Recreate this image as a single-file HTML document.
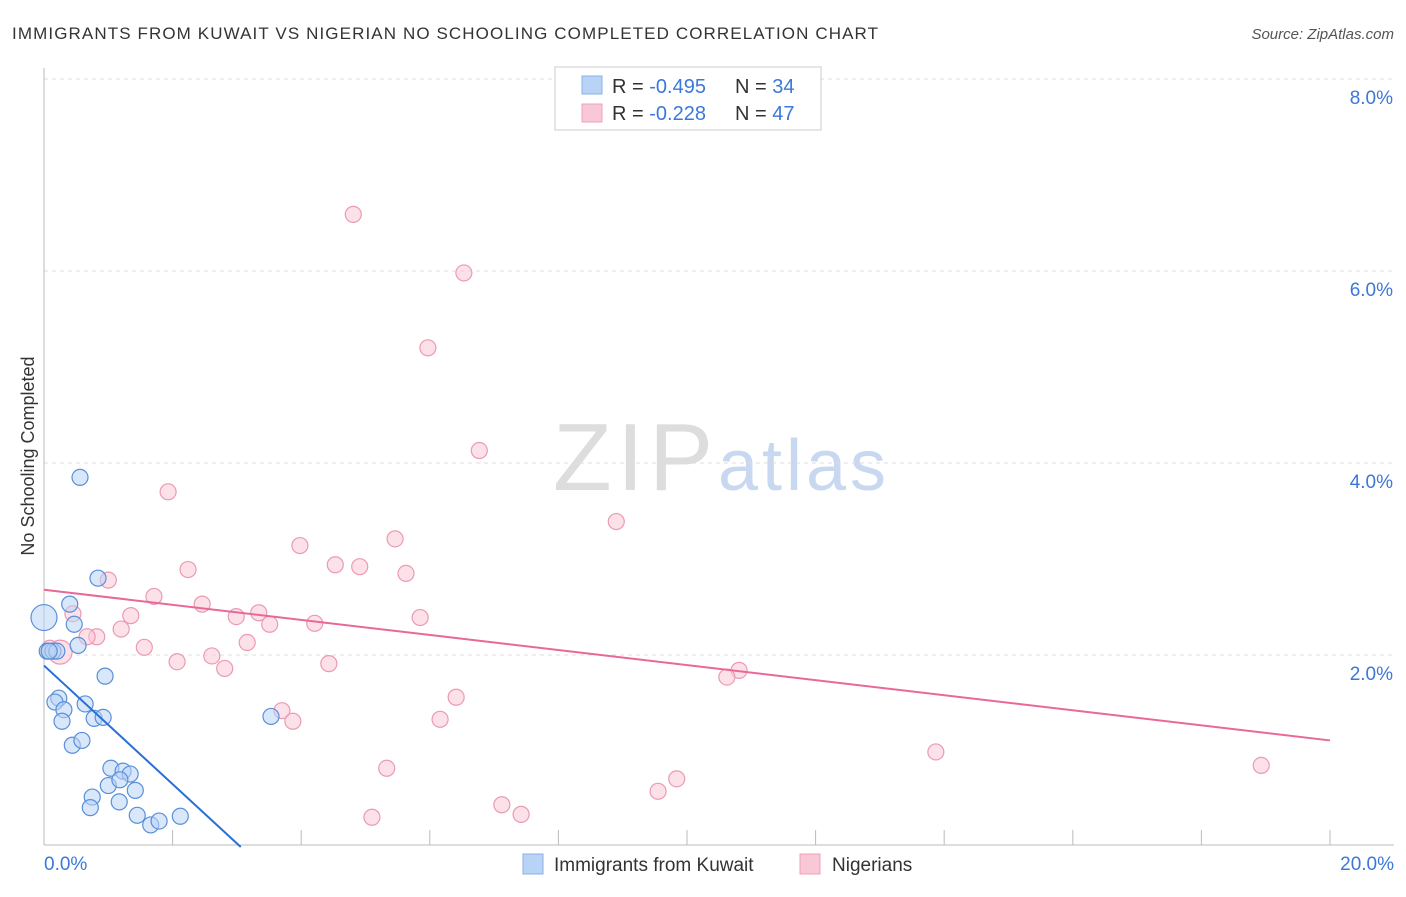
<!DOCTYPE html>
<html><head><meta charset="utf-8"><style>
body{margin:0;background:#fff;font-family:"Liberation Sans",sans-serif;}
svg text{font-family:"Liberation Sans",sans-serif;}
</style></head><body>
<svg id="chart" width="1406" height="892" viewBox="0 0 1406 892" xmlns="http://www.w3.org/2000/svg">
<text x="12" y="39" font-size="17" fill="#333" textLength="866">IMMIGRANTS FROM KUWAIT VS NIGERIAN NO SCHOOLING COMPLETED CORRELATION CHART</text>
<text x="1394" y="39" font-size="15" fill="#555" text-anchor="end" font-style="italic">Source: ZipAtlas.com</text>
<text x="553" y="490" font-size="96" fill="#ddd" font-family="Liberation Serif" textLength="160">ZIP</text>
<text x="718" y="490" font-size="72" fill="#c8d8f0" textLength="168">atlas</text>
<g id="grid"></g><g id="axes"></g><g id="marks"></g>
<text transform="translate(34,456) rotate(-90)" font-size="18" fill="#333" text-anchor="middle">No Schooling Completed</text>
<g>
<rect x="555" y="67" width="266" height="63" fill="#fff" stroke="#ccc"/>
<rect x="582" y="76" width="20" height="18" fill="#b8d3f5" stroke="#8ab0e6"/>
<rect x="582" y="104" width="20" height="18" fill="#f9c8d6" stroke="#eea0b8"/>
<text x="612" y="93" font-size="20" fill="#333">R = <tspan fill="#3b78d8">-0.495</tspan></text>
<text x="735" y="93" font-size="20" fill="#333">N = <tspan fill="#3b78d8">34</tspan></text>
<text x="612" y="120" font-size="20" fill="#333">R = <tspan fill="#3b78d8">-0.228</tspan></text>
<text x="735" y="120" font-size="20" fill="#333">N = <tspan fill="#3b78d8">47</tspan></text>
</g>
<g>
<rect x="523" y="854" width="20" height="20" fill="#b8d3f5" stroke="#8ab0e6"/>
<text x="554" y="871" font-size="19" fill="#333">Immigrants from Kuwait</text>
<rect x="800" y="854" width="20" height="20" fill="#f9c8d6" stroke="#eea0b8"/>
<text x="832" y="871" font-size="19" fill="#333">Nigerians</text>
</g>
</svg>
<script>
const xTicks=[0,2,4,6,8,10,12,14,16,18,20];
const yTicks=[2,4,6,8];
const yTickLabels=["2.0%","4.0%","6.0%","8.0%"];
const kuwaitX=[0,0.05,0.14,0.2,0.4,0.47,0.53,0.56,0.84,0.95,0.23,0.17,0.31,0.28,0.64,0.78,0.92,0.44,0.59,1.04,1.23,1.34,1.0,1.18,1.42,0.75,0.72,1.17,1.45,1.66,1.79,2.12,3.53,0.08];
const kuwaitY=[2.39,2.04,2.04,2.04,2.53,2.32,2.1,3.85,2.8,1.78,1.55,1.51,1.43,1.31,1.49,1.34,1.35,1.06,1.11,0.82,0.79,0.76,0.64,0.7,0.59,0.52,0.41,0.47,0.33,0.23,0.27,0.32,1.36,2.04];
const nigX=[4.81,6.53,5.97,6.77,1.93,8.9,3.98,5.46,4.53,4.91,5.63,2.24,1.0,1.71,2.46,3.34,2.99,1.35,0.45,3.51,4.21,5.85,1.2,0.82,0.67,3.16,1.56,0.25,0.09,2.61,2.07,2.81,4.43,10.81,10.62,6.41,3.7,3.87,6.16,13.87,5.33,18.93,9.84,9.55,7.12,7.42,5.1];
const nigY=[6.59,5.98,5.2,4.13,3.7,3.39,3.14,3.21,2.94,2.92,2.85,2.89,2.78,2.61,2.53,2.44,2.4,2.41,2.43,2.32,2.33,2.39,2.27,2.19,2.19,2.13,2.08,2.03,2.07,1.99,1.93,1.86,1.91,1.84,1.77,1.56,1.42,1.31,1.33,0.99,0.82,0.85,0.71,0.58,0.44,0.34,0.31];
const kuwaitTrend=[[0,1.89],[3.06,0]];
const nigTrend=[[0,2.68],[20,1.11]];
const X=v=>44+v*64.3, Y=v=>847-v*96;
const NS="http://www.w3.org/2000/svg";
function mk(tag,attrs,parent){const e=document.createElementNS(NS,tag);for(const k in attrs)e.setAttribute(k,attrs[k]);document.getElementById(parent).appendChild(e);return e;}
yTicks.forEach((t,i)=>{
 const l=mk('line',{x1:44,x2:1394,y1:Y(t),y2:Y(t),stroke:'#ddd','stroke-dasharray':'4,4'},'grid');
 
 
 const tx=mk('text',{x:1393,y:Y(t)+25,'font-size':19,fill:'#3b78d8','text-anchor':'end'},'axes');
 tx.textContent=yTickLabels[i];
 
 
});
const ax=mk('line',{x1:44,x2:44,y1:68,y2:845,stroke:'#bbb'},'axes');


const bx=mk('line',{x1:44,x2:1394,y1:845,y2:845,stroke:'#bbb'},'axes');


xTicks.forEach(t=>{
 const l=mk('line',{x1:X(t),x2:X(t),y1:830,y2:845,stroke:'#bbb'},'axes');
 
 
});
[[0,"0.0%","start",44],[20,"20.0%","end",1394]].forEach(a=>{
 const tx=mk('text',{x:a[3],y:870,'font-size':19,fill:'#3b78d8','text-anchor':a[2]},'axes');
 tx.textContent=a[1];
 
 
});
function pts(xs,ys,fill,stroke,name){xs.forEach((x,i)=>{
 const r=(i===0&&name==='kuwait-point')?13:(i===27&&name==='nigerian-point')?12:8;
 const c=mk('circle',{cx:X(x),cy:Y(ys[i]),r:r,fill:fill,'fill-opacity':0.55,stroke:stroke,'stroke-width':1.2},'marks');
 
 
});}
pts(nigX,nigY,'#f9c8d6','#eb9ab4','nigerian-point');
pts(kuwaitX,kuwaitY,'#b8d3f5','#5a8fd8','kuwait-point');
const t1=mk('line',{x1:X(kuwaitTrend[0][0]),y1:Y(kuwaitTrend[0][1]),x2:X(kuwaitTrend[1][0]),y2:Y(kuwaitTrend[1][1]),stroke:'#2a6fd6','stroke-width':2},'marks');


const t2=mk('line',{x1:X(nigTrend[0][0]),y1:Y(nigTrend[0][1]),x2:X(nigTrend[1][0]),y2:Y(nigTrend[1][1]),stroke:'#e8689a','stroke-width':2},'marks');


</script>
</body></html>
